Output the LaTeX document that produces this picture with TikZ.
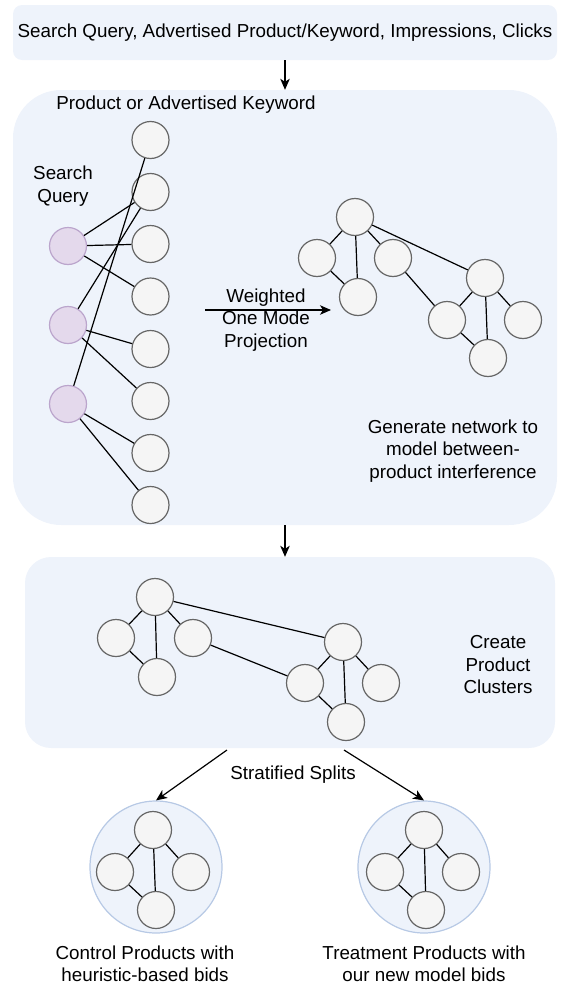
\documentclass[tikz,border=0pt]{standalone}
\usepackage{fontspec}
\setmainfont{Liberation Sans}
\usetikzlibrary{arrows.meta}
\definecolor{boxfill}{HTML}{EEF3FB}
\definecolor{nodefill}{HTML}{F5F5F5}
\definecolor{nodedraw}{HTML}{666666}
\definecolor{qfill}{HTML}{E4D9EC}
\definecolor{qdraw}{HTML}{BBA5CC}
\definecolor{grpdraw}{HTML}{B7C9E5}
\begin{document}
\begin{tikzpicture}[x=1pt,y=-1pt,
  every node/.style={font=\fontsize{18.8}{22.5}\selectfont, inner sep=0pt},
  panel/.style={fill=boxfill, draw=none},
  pnode/.style={circle, fill=nodefill, draw=nodedraw, line width=1.2pt, minimum size=37pt},
  qnode/.style={circle, fill=qfill, draw=qdraw, line width=1.2pt, minimum size=37pt},
  grp/.style={circle, fill=boxfill, draw=grpdraw, line width=1.2pt, minimum size=132pt},
  link/.style={line width=1.2pt, black},
  flow/.style={line width=1.2pt, black, -{Stealth[length=11pt,width=9.5pt,inset=3pt]}},
  txt/.style={align=center}
]
\useasboundingbox (0,0) rectangle (570,985);

% panels
\node[panel, rounded corners=9pt, minimum width=544pt, minimum height=55pt] (top) at (285,32.5)
  {Search Query, Advertised Product/Keyword, Impressions, Clicks};
\node[panel, rounded corners=48pt, minimum width=544pt, minimum height=435pt] (p2) at (285,307.5) {};
\node[panel, rounded corners=26pt, minimum width=530pt, minimum height=191pt] (p3) at (290,652.5) {};

\draw[flow] (top.south) -- (p2.north);
\draw[flow] (p2.south) -- (p2.south |- p3.north);

% bipartite part
\node[txt] (lprod) at (186,105) {Product or Advertised Keyword};
\node[txt] (lsq) at (63,186) {Search\\Query};

\foreach \i/\y in {1/140,2/192,3/244,4/296.5,5/349,6/401,7/453,8/505}
  \node[pnode] (p\i) at (150.5,\y) {};
\node[qnode] (q1) at (68,246) {};
\node[qnode] (q2) at (68,325) {};
\node[qnode] (q3) at (68,404) {};

\draw[link] (q1) -- (p2);
\draw[link] (q1) -- (p3);
\draw[link] (q1) -- (p4);
\draw[link] (q2) -- (p2);
\draw[link] (q2) -- (p5);
\draw[link] (q2) -- (p6);
\draw[link] (q3) -- (p1);
\draw[link] (q3) -- (p7);
\draw[link] (q3) -- (p8);

% projection arrow
\coordinate (wa) at (205,310);
\coordinate (wb) at (331,310);
\draw[flow] (wa) -- (wb);
\node[txt] (lw) at (266,320) {Weighted\\One Mode\\Projection};

% projected network
\node[pnode] (n1) at (355,217) {};
\node[pnode] (n2) at (317,258) {};
\node[pnode] (n3) at (358,297) {};
\node[pnode] (n4) at (393,258) {};
\node[pnode] (n5) at (485,278) {};
\node[pnode] (n6) at (447,320) {};
\node[pnode] (n7) at (523,320) {};
\node[pnode] (n8) at (488,358) {};
\draw[link] (n1) -- (n2);
\draw[link] (n1) -- (n3);
\draw[link] (n1) -- (n4);
\draw[link] (n1) -- (n5);
\draw[link] (n2) -- (n3);
\draw[link] (n4) -- (n6);
\draw[link] (n5) -- (n6);
\draw[link] (n5) -- (n8);
\draw[link] (n5) -- (n7);
\draw[link] (n6) -- (n8);
\node[txt] (lgen) at (453,451) {Generate network to\\model between-\\product interference};

% clusters
\node[pnode] (m1) at (155,597) {};
\node[pnode] (m2) at (116,638) {};
\node[pnode] (m3) at (157,677) {};
\node[pnode] (m4) at (193,638) {};
\node[pnode] (m5) at (343,642) {};
\node[pnode] (m6) at (305,683) {};
\node[pnode] (m7) at (381,683) {};
\node[pnode] (m8) at (346,722) {};
\draw[link] (m1) -- (m2);
\draw[link] (m1) -- (m3);
\draw[link] (m1) -- (m4);
\draw[link] (m1) -- (m5);
\draw[link] (m2) -- (m3);
\draw[link] (m4) -- (m6);
\draw[link] (m5) -- (m6);
\draw[link] (m5) -- (m8);
\draw[link] (m5) -- (m7);
\draw[link] (m6) -- (m8);
\node[txt] (lcl) at (498,665) {Create\\Product\\Clusters};

% splits
\node[grp] (ctrl) at (156,867) {};
\node[grp] (trt) at (424,867) {};
\coordinate (sl) at (227,750);
\coordinate (sr) at (344,750);
\draw[flow] (sl) -- (ctrl.north);
\draw[flow] (sr) -- (trt.north);
\node[txt] (lss) at (293,775) {Stratified Splits};

\node[pnode] (c1) at (153,830) {};
\node[pnode] (c2) at (115,872) {};
\node[pnode] (c3) at (191,872) {};
\node[pnode] (c4) at (156,910) {};
\draw[link] (c1) -- (c2);
\draw[link] (c1) -- (c3);
\draw[link] (c1) -- (c4);
\draw[link] (c2) -- (c4);

\node[pnode] (t1) at (424,830) {};
\node[pnode] (t2) at (385,872) {};
\node[pnode] (t3) at (461,872) {};
\node[pnode] (t4) at (426,910) {};
\draw[link] (t1) -- (t2);
\draw[link] (t1) -- (t3);
\draw[link] (t1) -- (t4);
\draw[link] (t2) -- (t4);

\node[txt] (lctrl) at (145,964) {Control Products with\\heuristic-based bids};
\node[txt] (ltrt) at (424,964) {Treatment Products with\\our new model bids};
\end{tikzpicture}
\end{document}
